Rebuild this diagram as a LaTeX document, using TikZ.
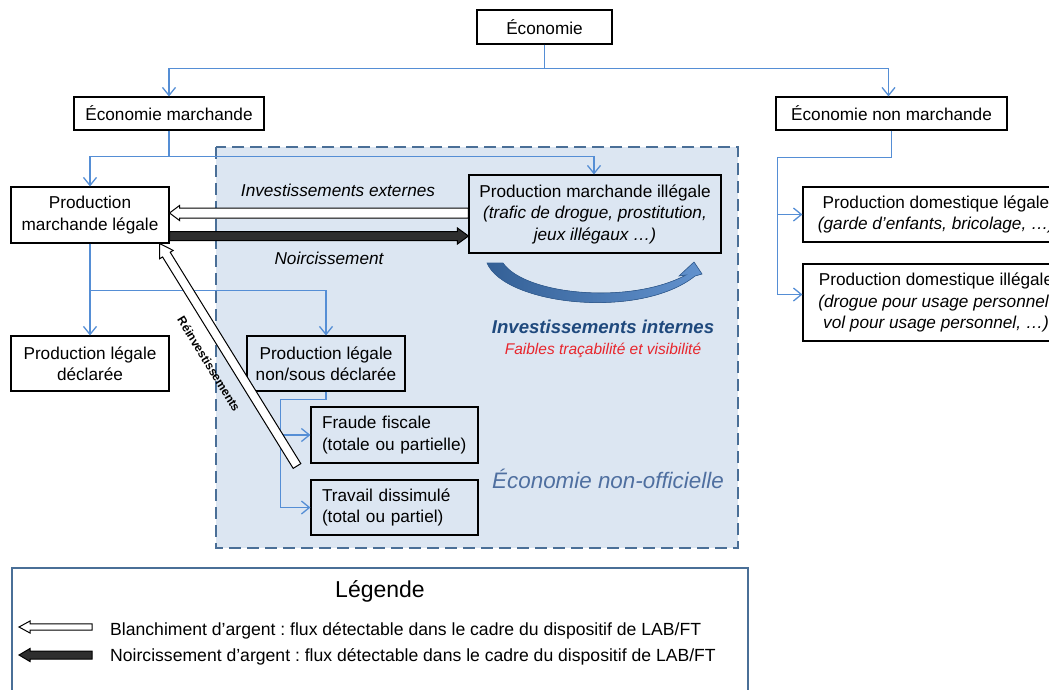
\documentclass[tikz,border=0pt]{standalone}
\usepackage{fontspec}
\setmainfont{Liberation Sans}
\usetikzlibrary{arrows.meta,calc}
\frenchspacing
\definecolor{connblue}{RGB}{85,142,213}
\definecolor{frameblue}{RGB}{74,111,151}
\definecolor{zonefill}{RGB}{220,230,242}
\definecolor{darkblue}{RGB}{31,73,125}
\definecolor{redtxt}{RGB}{232,38,45}
\definecolor{curveA}{RGB}{52,96,150}
\definecolor{curveB}{RGB}{98,146,206}
\definecolor{zonetxt}{RGB}{79,111,160}
\newcommand{\mainfs}{\fontsize{17.2}{21.5}\selectfont}
\newcommand{\blockarrow}[6]{%
  \coordinate (baheadpt) at ($(#3)!#6!(#2)$);
  \draw[#1] ($(#2)!#4!90:(#3)$) -- ($(baheadpt)!#4!90:(#3)$) -- ($(baheadpt)!#5!90:(#3)$) -- (#3) -- ($(baheadpt)!#5!-90:(#3)$) -- ($(baheadpt)!#4!-90:(#3)$) -- ($(#2)!#4!-90:(#3)$) -- cycle;
}
\begin{document}
\begin{tikzpicture}[x=1pt,y=-1pt,
  box/.style={draw=black, line width=1.1pt, inner sep=0pt, align=center, font=\mainfs},
  conn/.style={draw=connblue, line width=1.3pt},
  carrow/.style={conn, -{Straight Barb[length=8pt,width=13pt,line width=1.3pt]}},
  whitearrow/.style={draw=black, line width=1pt, fill=white},
  blackarrow/.style={draw=black, line width=1pt, fill=black!82},
  lbl/.style={font=\mainfs\itshape, inner sep=0pt}]
\useasboundingbox (0,0) rectangle (1049,689);
\clip (0,0) rectangle (1049,689);

% non-official economy zone
\fill[zonefill] (216,147) rectangle (738,548);
\draw[frameblue, line width=2.5pt, dash pattern=on 12pt off 6pt] (216,147) rectangle (738,548);

% nodes
\node[box, minimum width=135pt, minimum height=34pt] (eco) at (544.5,27) {Économie};
\node[box, minimum width=190pt, minimum height=33pt] (em) at (169,113.5) {Économie marchande};
\node[box, minimum width=231pt, minimum height=33pt] (enm) at (891.5,113.5) {Économie non marchande};
\node[box, minimum width=158pt, minimum height=56pt] (pml) at (90,215) {Production\\marchande légale};
\node[box, minimum width=252pt, minimum height=78pt] (pmi) at (595,214) {Production marchande illégale\\{\itshape (trafic de drogue, prostitution,}\\{\itshape jeux illégaux …)}};
\node[box, minimum width=158pt, minimum height=55pt] (pld) at (90,363.5) {Production légale\\déclarée};
\node[box, minimum width=158pt, minimum height=55pt] (plnd) at (326,363.5) {Production légale\\non/sous déclarée};
\node[box, text width=145pt, inner xsep=11pt, align=left, minimum height=56pt] (ff) at (394.5,435) {Fraude fiscale\\(totale ou partielle)};
\node[box, text width=145pt, inner xsep=11pt, align=left, minimum height=55pt] (td) at (394.5,507.5) {Travail dissimulé\\(total ou partiel)};
\node[box, minimum width=266pt, minimum height=55pt] (pdl) at (936,214.5) {Production domestique légale\\{\itshape (garde d’enfants, bricolage, …)}};
\node[box, minimum width=266pt, minimum height=77pt] (pdi) at (936,302.5) {Production domestique illégale\\{\itshape (drogue pour usage personnel,}\\{\itshape vol pour usage personnel, …)}};

% tree connectors
\draw[carrow] (eco.south) -- ++(0,24) -| (em.north);
\draw[carrow] (eco.south) -- ++(0,24) -| ($(enm.north)+(-3,0)$);
\draw[carrow] (em.south) -- ++(0,26) -| (pml.north);
\draw[carrow] (em.south) -- ++(0,26) -| ($(pmi.north)+(-1,0)$);
\draw[carrow] (pml.south) -- (pld.north);
\draw[carrow] (pml.south) -- ++(0,47) -| (plnd.north);
\coordinate (fbranch) at ($(ff.west)+(-30,0)$);
\coordinate (tbranch) at ($(td.west)+(-30,0)$);
\draw[carrow] (plnd.south) -- ++(0,8) -| (tbranch) -- (td.west);
\draw[carrow] (fbranch) -- (ff.west);
\coordinate (dlbranch) at ($(pdl.west)+(-25,0)$);
\coordinate (dibranch) at ($(pdi.west)+(-25,-8)$);
\draw[carrow] (enm.south) -- ++(0,27) -| (dibranch) -- (pdi.west |- dibranch);
\draw[carrow] (dlbranch) -- (pdl.west);

% money flows
\coordinate (yext) at (0,213);
\coordinate (ynoir) at (0,236);
\coordinate (extstart) at (pmi.west |- yext);
\coordinate (exttip) at (pml.east |- yext);
\coordinate (noirstart) at (pml.east |- ynoir);
\coordinate (noirtip) at (pmi.west |- ynoir);
\blockarrow{whitearrow}{extstart}{exttip}{5pt}{7.5pt}{10pt}
\blockarrow{blackarrow}{noirstart}{noirtip}{4.5pt}{8pt}{11pt}
\coordinate (reinvstart) at (297,466);
\coordinate (reinvtip) at ($(pml.south east)+(-10,0)$);
\blockarrow{whitearrow}{reinvstart}{reinvtip}{4.5pt}{8pt}{13pt}

\node[lbl] (lext) at (338,190) {Investissements externes};
\node[lbl] (lnoir) at (329,258) {Noircissement};
\node[font=\fontsize{12}{14}\selectfont\bfseries, rotate=-58.5, inner sep=0pt] (lreinv) at (209,364) {Réinvestissements};

% internal investments curved arrow
\fill[left color=curveA, right color=curveB, draw=curveA, line width=0.6pt]
  (487,263) .. controls (505,305) and (640,320) .. (695,276)
  -- (702,274) -- (694,262) -- (679,276) -- (686,275)
  .. controls (630,305) and (525,295) .. (503,263) -- cycle;
\node[font=\fontsize{18.6}{22}\selectfont\bfseries\itshape, text=darkblue, inner sep=0pt] (lint) at (603,327) {Investissements internes};
\node[font=\fontsize{15.5}{18}\selectfont\itshape, text=redtxt, inner sep=0pt] (ltrace) at (603,350) {Faibles traçabilité et visibilité};
\node[font=\fontsize{22.4}{26}\selectfont\itshape, text=zonetxt, inner sep=0pt] (lzone) at (608,479) {Économie non-officielle};

% legend
\draw[frameblue, line width=2pt] (12,568) rectangle (748,720);
\node[font=\fontsize{23}{27}\selectfont, inner sep=0pt] (legtitle) at (380,591) {Légende};
\coordinate (lw1) at (92,627);
\coordinate (lw1tip) at (19,627);
\coordinate (lb1) at (92,655);
\coordinate (lb1tip) at (19,655);
\blockarrow{whitearrow}{lw1}{lw1tip}{3.2pt}{6pt}{11pt}
\blockarrow{blackarrow}{lb1}{lb1tip}{4pt}{6.5pt}{11pt}
\node[font=\fontsize{17.6}{21}\selectfont, anchor=west, inner sep=0pt] (legw) at (110,631) {Blanchiment d’argent : flux détectable dans le cadre du dispositif de LAB/FT};
\node[font=\fontsize{17.6}{21}\selectfont, anchor=west, inner sep=0pt] (legb) at (110,657) {Noircissement d’argent : flux détectable dans le cadre du dispositif de LAB/FT};
\end{tikzpicture}
\end{document}
